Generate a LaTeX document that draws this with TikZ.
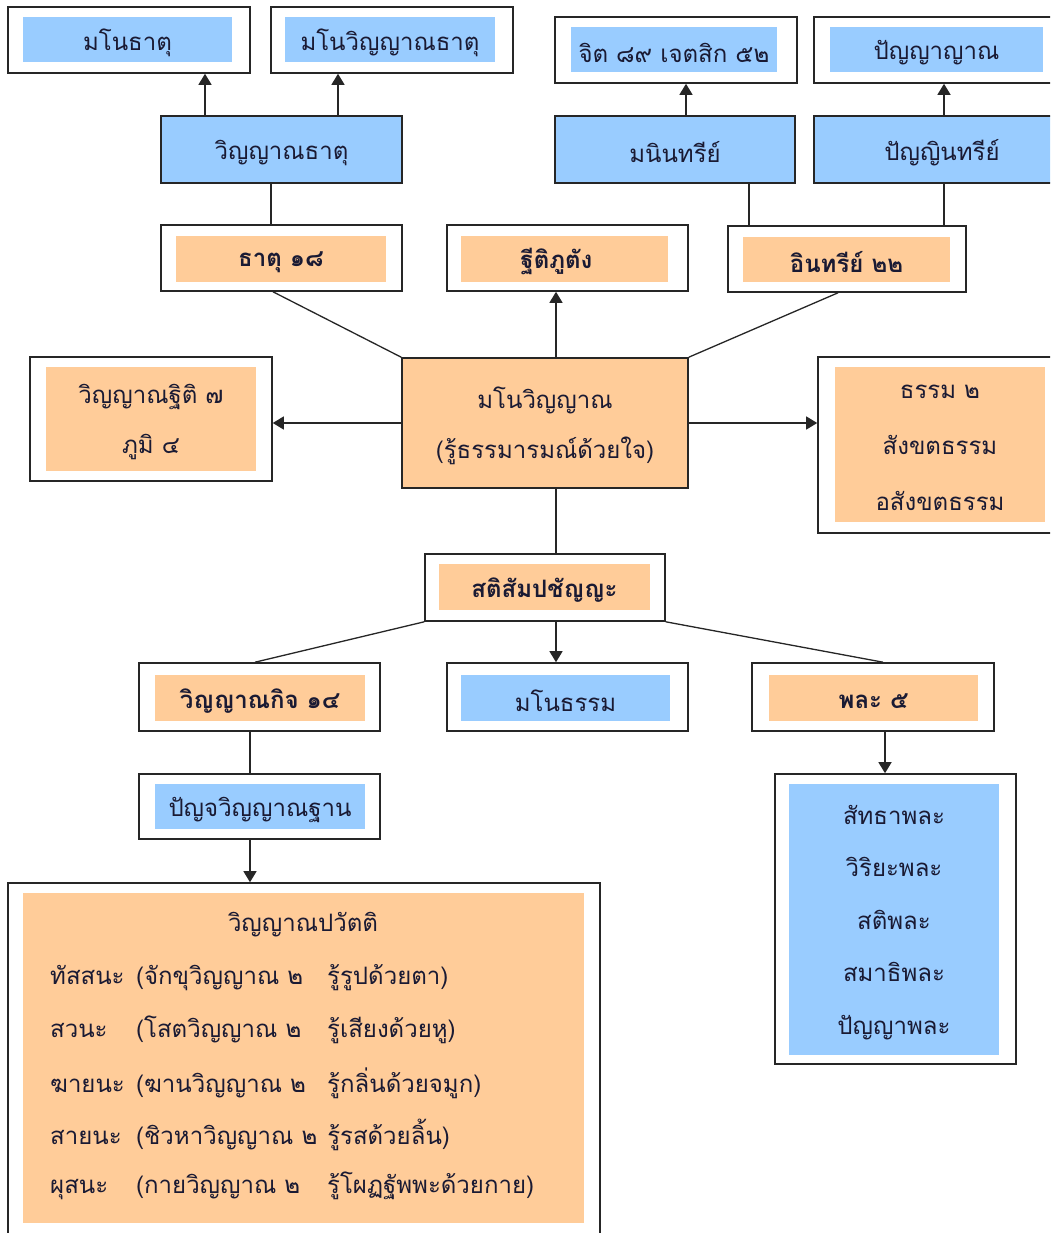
\documentclass[tikz,border=0pt]{standalone}
\usepackage{fontspec}
\newfontfamily\thai[Script=Thai]{Loma}
\usetikzlibrary{arrows.meta,fit,calc}
\definecolor{bluef}{HTML}{99CCFF}
\definecolor{orangef}{HTML}{FFCC99}
\definecolor{edgec}{HTML}{262626}
\definecolor{txt}{HTML}{1A1A33}
\newcommand\bkline[3]{\makebox[86pt][l]{#1}\makebox[191pt][l]{#2}#3}
\begin{document}
\begin{tikzpicture}[x=1pt,y=-1pt,
  obox/.style={draw=edgec,line width=1.6pt,fill=white,inner sep=0pt},
  bfill/.style={fill=bluef,inner sep=0pt},
  ofill/.style={fill=orangef,inner sep=0pt},
  lbl/.style={text=txt,align=center,inner sep=0pt,yshift=-3pt,font=\thai\fontsize{24}{50}\selectfont},
  blbl/.style={lbl,font=\thai\bfseries\fontsize{24}{50}\selectfont},
  conn/.style={line width=1.3pt,draw=edgec},
  arr/.style={conn,-{Triangle[length=11pt,width=13pt]}}
]
\useasboundingbox (0,0) rectangle (1050,1233);
\clip (0,0) rectangle (1050,1233);
\fill[white] (0,0) rectangle (1050,1233);
% x positions of connectors
\foreach \xv in {205,338,686,944,271,749,273,838,556,255,883,250,885}{\coordinate (c\xv) at (\xv,0);}
% top row
\node[obox,fit={(8,7)(250,73)}] (mdh) {};
\node[bfill,fit={(23,17)(232,62)}] (mdhF) {};
\node[lbl] (mdhT) at (mdhF.center) {มโนธาตุ};
\node[obox,fit={(271,7)(513,73)}] (mvdh) {};
\node[bfill,fit={(285,17)(495,62)}] (mvdhF) {};
\node[lbl] (mvdhT) at (mvdhF.center) {มโนวิญญาณธาตุ};
\node[obox,fit={(555,17)(797,83)}] (citta) {};
\node[bfill,fit={(571,27)(777,72)}] (cittaF) {};
\node[lbl] (cittaT) at (cittaF.center) {จิต ๘๙ เจตสิก ๕๒};
\node[obox,fit={(814,17)(1070,83)}] (pyana) {};
\node[bfill,fit={(830,27)(1043,72)}] (pyanaF) {};
\node[lbl] (pyanaT) at (pyanaF.center) {ปัญญาญาณ};
% second row
\node[obox,fill=bluef,fit={(161,116)(402,183)}] (vdh) {};
\node[lbl] (vdhT) at (vdh.center) {วิญญาณธาตุ};
\node[obox,fill=bluef,fit={(555,116)(795,183)}] (mnin) {};
\node[lbl] (minT) at (mnin.center) {มนินทรีย์};
\node[obox,fill=bluef,fit={(814,116)(1070,183)}] (pann) {};
\node[lbl] (pannT) at (942,149.5) {ปัญญินทรีย์};
% third row
\node[obox,fit={(161,225)(402,291)}] (dh18) {};
\node[ofill,fit={(176,236)(386,282)}] (dh18F) {};
\node[blbl] (dh18T) at (dh18F.center) {ธาตุ ๑๘};
\node[obox,fit={(447,225)(688,291)}] (thiti) {};
\node[ofill,fit={(461,236)(668,282)}] (thitiF) {};
\node[blbl] (thitiT) at ([xshift=-8pt]thitiF.center) {ฐีติภูตัง};
\node[obox,fit={(728,226)(966,292)}] (ind) {};
\node[ofill,fit={(743,237)(950,282)}] (indF) {};
\node[blbl] (indT) at (indF.center) {อินทรีย์ ๒๒};
% middle row
\node[obox,fill=orangef,fit={(402,358)(688,488)}] (mv) {};
\node[lbl] (mvT) at (mv.center) {มโนวิญญาณ\\(รู้ธรรมารมณ์ด้วยใจ)};
\node[obox,fit={(30,357)(272,481)}] (thit7) {};
\node[ofill,fit={(46,367)(256,471)}] (thit7F) {};
\node[lbl] (thit7T) at (thit7F.center) {วิญญาณฐิติ ๗\\ภูมิ ๔};
\node[obox,fit={(818,357)(1070,533)}] (dham2) {};
\node[ofill,fit={(835,367)(1045,522)}] (dham2F) {};
\node[lbl,font=\thai\fontsize{24}{56}\selectfont] (dham2T) at (dham2F.center) {ธรรม ๒\\สังขตธรรม\\อสังขตธรรม};
% lower rows
\node[obox,fit={(425,554)(665,621)}] (sati) {};
\node[ofill,fit={(439,564)(650,610)}] (satiF) {};
\node[blbl] (satiT) at (satiF.center) {สติสัมปชัญญะ};
\node[obox,fit={(139,663)(380,731)}] (vkic) {};
\node[ofill,fit={(155,675)(365,721)}] (vkicF) {};
\node[blbl] (vkicT) at (vkicF.center) {วิญญาณกิจ ๑๔};
\node[obox,fit={(447,663)(688,731)}] (mdham) {};
\node[bfill,fit={(461,675)(670,721)}] (mdhamF) {};
\node[lbl] (mdhamT) at (mdhamF.center) {มโนธรรม};
\node[obox,fit={(752,663)(994,731)}] (bala) {};
\node[ofill,fit={(769,675)(978,721)}] (balaF) {};
\node[blbl] (balaT) at (balaF.center) {พละ ๕};
\node[obox,fit={(139,774)(380,839)}] (panca) {};
\node[bfill,fit={(155,784)(365,829)}] (pancaF) {};
\node[lbl] (pancaT) at (pancaF.center) {ปัญจวิญญาณฐาน};
\node[obox,fit={(775,774)(1016,1064)}] (list) {};
\node[bfill,fit={(789,784)(999,1055)}] (listF) {};
\node[lbl,font=\thai\fontsize{24}{52.5}\selectfont] (listT) at (listF.center) {สัทธาพละ\\วิริยะพละ\\สติพละ\\สมาธิพละ\\ปัญญาพละ};
\node[obox,fit={(8,883)(600,1250)}] (big) {};
\node[ofill,fit={(23,893)(584,1223)}] (bigF) {};
\node[lbl] (bigT) at (303,922) {วิญญาณปวัตติ};
\node[lbl,anchor=west] (b1) at (50,975) {\bkline{ทัสสนะ}{(จักขุวิญญาณ ๒}{รู้รูปด้วยตา)}};
\node[lbl,anchor=west] (b2) at (50,1027) {\bkline{สวนะ}{(โสตวิญญาณ ๒}{รู้เสียงด้วยหู)}};
\node[lbl,anchor=west] (b3) at (50,1080) {\bkline{ฆายนะ}{(ฆานวิญญาณ ๒}{รู้กลิ่นด้วยจมูก)}};
\node[lbl,anchor=west] (b4) at (50,1132) {\bkline{สายนะ}{(ชิวหาวิญญาณ ๒}{รู้รสด้วยลิ้น)}};
\node[lbl,anchor=west] (b5) at (50,1183) {\bkline{ผุสนะ}{(กายวิญญาณ ๒}{รู้โผฏฐัพพะด้วยกาย)}};
% connectors
\draw[arr] (vdh.north -| c205) -- (mdh.south -| c205);
\draw[arr] (vdh.north -| c338) -- (mvdh.south -| c338);
\draw[arr] (mnin.north -| c686) -- (citta.south -| c686);
\draw[arr] (pann.north -| c944) -- (pyana.south -| c944);
\draw[conn] (vdh.south -| c271) -- (dh18.north -| c271);
\draw[conn] (mnin.south -| c749) -- (ind.north -| c749);
\draw[conn] (pann.south -| c944) -- (ind.north -| c944);
\draw[conn] (dh18.south -| c273) -- (mv.north west);
\draw[conn] (ind.south -| c838) -- (mv.north east);
\draw[arr] (mv.north -| c556) -- (thiti.south -| c556);
\draw[arr] (mv.west) -- (thit7.east |- mv.west);
\draw[arr] (mv.east) -- (dham2.west |- mv.east);
\draw[conn] (mv.south -| c556) -- (sati.north -| c556);
\draw[conn] (sati.south west) -- (vkic.north -| c255);
\draw[arr] (sati.south -| c556) -- (mdham.north -| c556);
\draw[conn] (sati.south east) -- (bala.north -| c883);
\draw[conn] (vkic.south -| c250) -- (panca.north -| c250);
\draw[arr] (panca.south -| c250) -- (big.north -| c250);
\draw[arr] (bala.south -| c885) -- (list.north -| c885);
\end{tikzpicture}
\end{document}
